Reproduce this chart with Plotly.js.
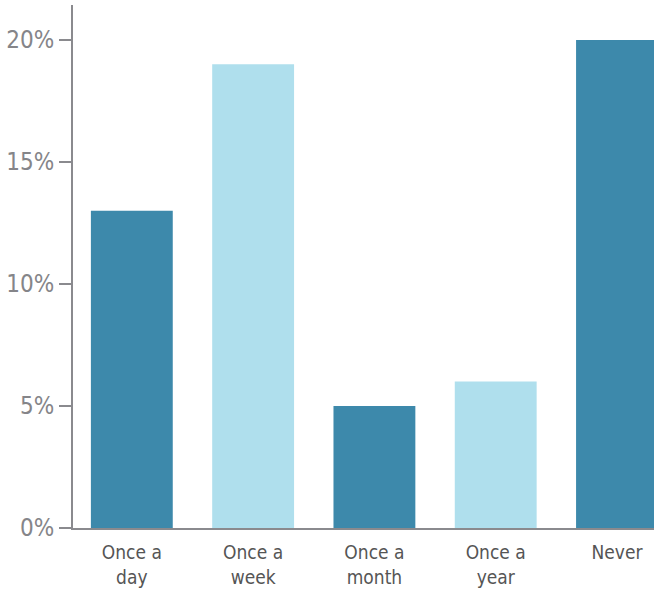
<!DOCTYPE html>
<html>
<head>
<meta charset="utf-8">
<script src="https://cdn.plot.ly/plotly-3.0.1.min.js"></script>
<style>html,body{margin:0;padding:0;background:#fff;}#chart{width:654px;height:595px;}</style>
</head>
<body>
<div id="chart"></div>
<script>
const categories = ["Once a<br>day", "Once a<br>week", "Once a<br>month", "Once a<br>year", "Never"];
const values = [13, 19, 5, 6, 20];
const barColors = ["#3d89ab", "#afdfed", "#3d89ab", "#afdfed", "#3d89ab"];
const yTicks = [0, 5, 10, 15, 20];

const trace = {
  type: 'bar',
  x: categories.map((c, i) => i),
  y: values,
  marker: {color: barColors, line: {width: 0}},
  hoverinfo: 'none'
};

const layout = {
  width: 654, height: 595,
  margin: {l: 73, r: 0, t: 5, b: 67},
  paper_bgcolor: '#fff', plot_bgcolor: '#fff',
  showlegend: false,
  bargap: 0.325,
  font: {family: 'DejaVu Sans Condensed, sans-serif'},
  xaxis: {
    range: [-0.485, 4.305],
    tickvals: [0, 1, 2, 3, 4],
    ticktext: categories,
    showline: true, linecolor: '#8a8a8e', linewidth: 2,
    ticks: '', showgrid: false, zeroline: false,
    tickfont: {size: 19, color: '#555555'},
    ticklabelstandoff: 6,
    fixedrange: true
  },
  yaxis: {
    range: [0, 21.43],
    tickvals: yTicks,
    ticktext: yTicks.map(v => v + '%'),
    showline: true, linecolor: '#8a8a8e', linewidth: 2,
    ticks: 'outside', ticklen: 12, tickwidth: 2, tickcolor: '#8a8a8e',
    showgrid: false, zeroline: false,
    tickfont: {size: 24, color: '#858589'},
    fixedrange: true
  }
};

Plotly.newPlot('chart', [trace], layout, {displayModeBar: false, staticPlot: true});
</script>
</body>
</html>
